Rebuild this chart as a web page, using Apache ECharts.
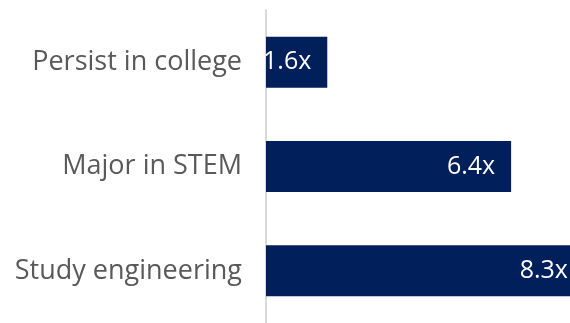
<!DOCTYPE html>
<html><head><meta charset="utf-8">
<script src="https://cdn.jsdelivr.net/npm/echarts@6/dist/echarts.min.js"></script>
<style>html,body{margin:0;padding:0;background:#fff;overflow:hidden}#c{width:660px;height:323px}</style>
</head><body><div id="c"></div>
<script>
const categories = ["Persist in college", "Major in STEM", "Study engineering"];
const values = [1.6, 6.4, 8.3];
const chart = echarts.init(document.getElementById('c'), null, {renderer: 'canvas'});
chart.setOption({
  animation: false,
  grid: {left: 266, top: 10, width: 383, height: 317, containLabel: false},
  xAxis: {type: 'value', min: 0, max: 10, show: false},
  yAxis: {
    type: 'category', data: categories, inverse: true,
    axisLine: {show: true, lineStyle: {color: '#d9d9d9', width: 2}},
    axisTick: {show: false},
    axisLabel: {margin: 24, color: '#595959', fontFamily: 'Open Sans', fontSize: 27}
  },
  series: [{
    type: 'bar', data: values, barWidth: 51,
    itemStyle: {color: '#001f5b'},
    label: {show: true, position: 'insideRight', distance: 16, color: '#ffffff',
      fontFamily: 'Open Sans', fontSize: 25, formatter: p => p.value.toFixed(1) + 'x'}
  }]
});
</script></body></html>
